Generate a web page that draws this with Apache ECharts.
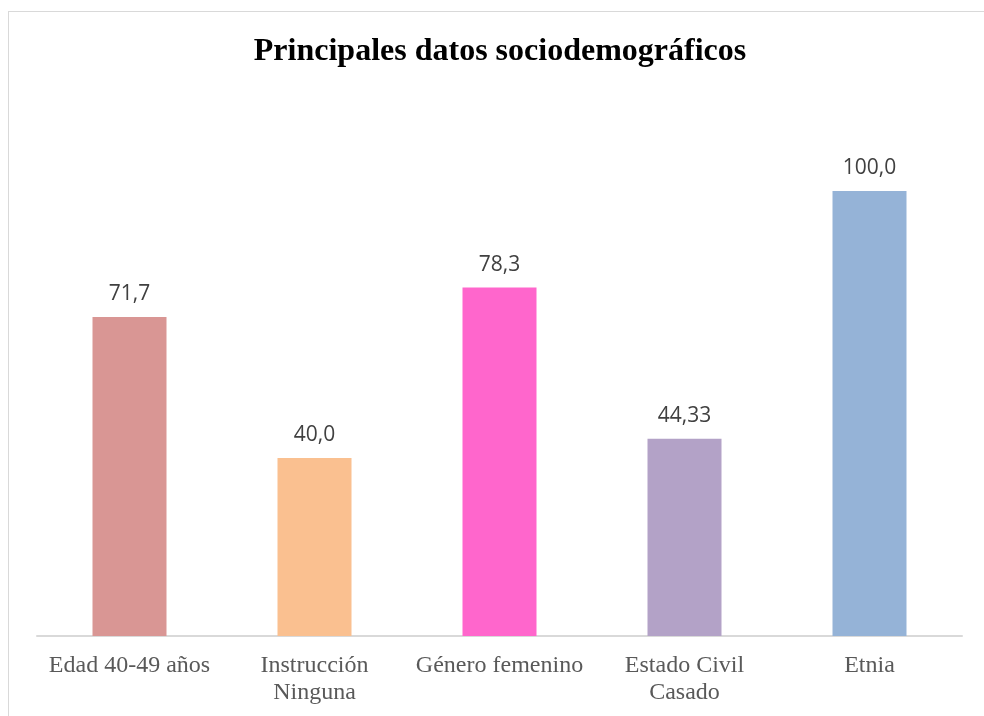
<!DOCTYPE html>
<html>
<head>
<meta charset="utf-8">
<script src="https://cdn.jsdelivr.net/npm/echarts@6/dist/echarts.min.js"></script>
<style>
html,body{margin:0;padding:0;background:#fff;}
#frame{position:absolute;left:8px;top:11px;width:1000px;height:720px;border:1px solid #d9d9d9;box-sizing:border-box;}
#chart{position:absolute;left:0;top:0;width:984px;height:716px;}
</style>
</head>
<body>
<div id="frame"></div>
<div id="chart"></div>
<script>
const categories = ["Edad 40-49 años", "Instrucción\nNinguna", "Género femenino", "Estado Civil\nCasado", "Etnia"];
const values = [71.7, 40.0, 78.3, 44.33, 100.0];
const valueLabels = ["71,7", "40,0", "78,3", "44,33", "100,0"];
const colors = ["#d99694", "#fac090", "#ff66cc", "#b3a2c7", "#95b3d7"];

const chart = echarts.init(document.getElementById('chart'), null, {renderer: 'canvas'});
chart.setOption({
  backgroundColor: 'transparent',
  animation: false,
  title: {
    text: 'Principales datos sociodemográficos',
    left: 495,
    textAlign: 'center',
    top: 31,
    textStyle: {fontFamily: 'Liberation Serif', fontWeight: 'bold', fontSize: 32, color: '#000'}
  },
  grid: {left: 37, right: 22, top: 191, bottom: 80, containLabel: false},
  xAxis: {
    type: 'category',
    data: categories,
    axisLine: {show: true, lineStyle: {color: '#d9d9d9', width: 2}},
    axisTick: {show: false},
    axisLabel: {
      interval: 0,
      margin: 16,
      fontFamily: 'Liberation Serif',
      fontSize: 24,
      lineHeight: 27,
      color: '#595959'
    }
  },
  yAxis: {
    type: 'value',
    min: 0,
    max: 100,
    show: false,
    splitLine: {show: false}
  },
  series: [{
    type: 'bar',
    barWidth: '40%',
    data: values.map((v, i) => ({value: v, itemStyle: {color: colors[i]}})),
    label: {
      show: true,
      position: 'top',
      distance: 12,
      fontFamily: 'Open Sans',
      fontSize: 21,
      color: '#404040',
      formatter: p => valueLabels[p.dataIndex]
    }
  }]
});
</script>
</body>
</html>
